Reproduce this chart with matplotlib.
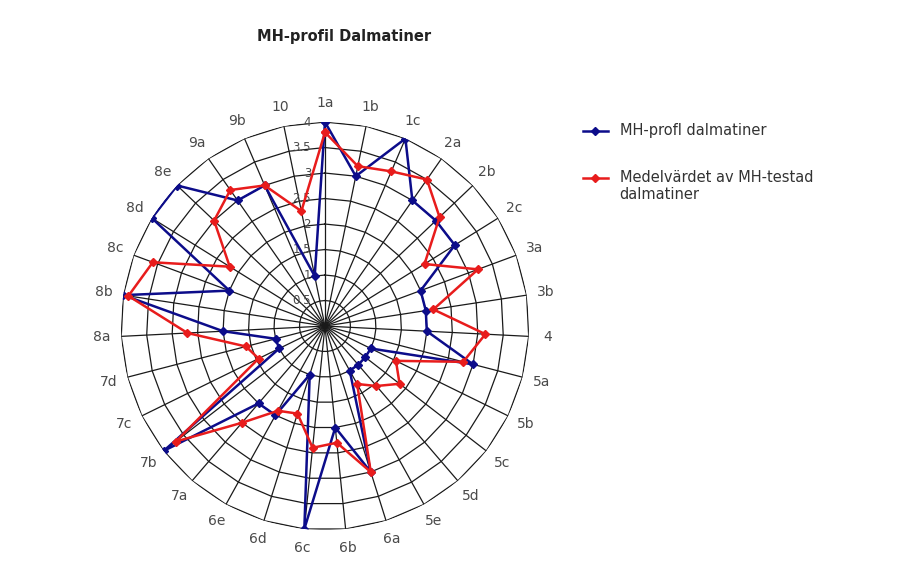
import matplotlib
matplotlib.use("Agg")
import matplotlib.pyplot as plt
import numpy as np
from matplotlib.lines import Line2D

# MH categories, clockwise from the top
categories = ['1a', '1b', '1c', '2a', '2b', '2c', '3a', '3b', '4', '5a', '5b',
              '5c', '5d', '5e', '6a', '6b', '6c', '6d', '6e', '7a', '7b', '7c',
              '7d', '8a', '8b', '8c', '8d', '8e', '9a', '9b', '10']

# MH-profile of the dalmatian
profile = [4.0, 3.0, 4.0, 3.0, 3.0, 3.0, 2.0, 2.0, 2.0, 3.0, 1.0,
           1.0, 1.0, 1.0, 3.0, 2.0, 4.0, 1.0, 2.0, 2.0, 4.0, 1.0,
           1.0, 2.0, 4.0, 2.0, 4.0, 4.0, 3.0, 3.0, 1.0]

# mean value of MH-tested dalmatians
mean_vals = [3.8, 3.2, 3.3, 3.5, 3.1, 2.3, 3.2, 2.15, 3.15, 2.8, 1.55,
             1.85, 1.55, 1.3, 3.0, 2.3, 2.4, 1.8, 1.9, 2.5, 3.7, 1.45,
             1.6, 2.7, 3.9, 3.6, 2.2, 3.0, 3.25, 3.0, 2.3]

r_ticks = [0.5, 1, 1.5, 2, 2.5, 3, 3.5, 4]
r_tick_labels = ['0.5', '1', '1.5', '2', '2.5', '3', '3.5', '4']

profile_label = 'MH-profl dalmatiner'
mean_label = 'Medelvärdet av MH-testad\ndalmatiner'

BLUE = '#0c0c8a'
RED = '#e81c1c'
GRID = '#1a1a1a'
TEXT = '#4a4a4a'

n = len(categories)
theta = np.linspace(0, 2 * np.pi, n, endpoint=False)
theta_closed = np.append(theta, theta[0])

fig = plt.figure(figsize=(9.18, 5.73), dpi=100)
ax = fig.add_axes([0.1318, 0.075, 0.4444, 0.712], projection='polar')
ax.set_theta_zero_location('N')
ax.set_theta_direction(-1)
ax.set_ylim(0, 4)

# excel-style polygon grid
ax.grid(False)
ax.spines['polar'].set_visible(False)
for r in r_ticks:
    ax.plot(theta_closed, [r] * (n + 1), color=GRID, lw=0.9, zorder=1)
for t in theta:
    ax.plot([t, t], [0, 4], color=GRID, lw=0.9, zorder=1)

ax.set_yticks([])
for r, lbl in zip(r_ticks, r_tick_labels):
    ax.annotate(lbl, xy=(0, r), xytext=(-10, 0), textcoords='offset points',
                ha='right', va='center', fontsize=8.5, color=TEXT, zorder=2)

ax.set_xticks(theta)
ax.set_xticklabels(categories)
ax.tick_params(axis='x', pad=7, labelsize=10, labelcolor=TEXT, length=0)

prof_closed = profile + profile[:1]
mean_closed = mean_vals + mean_vals[:1]
ax.plot(theta_closed, prof_closed, color=BLUE, lw=1.8, marker='D',
        markersize=4.5, zorder=3)
ax.plot(theta_closed, mean_closed, color=RED, lw=1.8, marker='D',
        markersize=4.5, zorder=4)

fig.text(0.3747, 0.936, 'MH-profil Dalmatiner', ha='center', va='center',
         fontsize=10.5, fontweight='bold', color='#222222')


def legend_entry(y, color, label):
    fig.add_artist(Line2D([0.635, 0.6485, 0.662], [y, y, y],
                          transform=fig.transFigure, color=color, lw=1.8,
                          marker='D', markersize=4, markevery=[1]))
    step = 17 / 573
    for k, line in enumerate(label.split('\n')):
        fig.text(0.675, y - k * step, line, ha='left', va='center',
                 fontsize=10.5, color='#333333')


legend_entry(0.7714, BLUE, profile_label)
legend_entry(0.6894, RED, mean_label)

fig.savefig('out.png', dpi=100)
